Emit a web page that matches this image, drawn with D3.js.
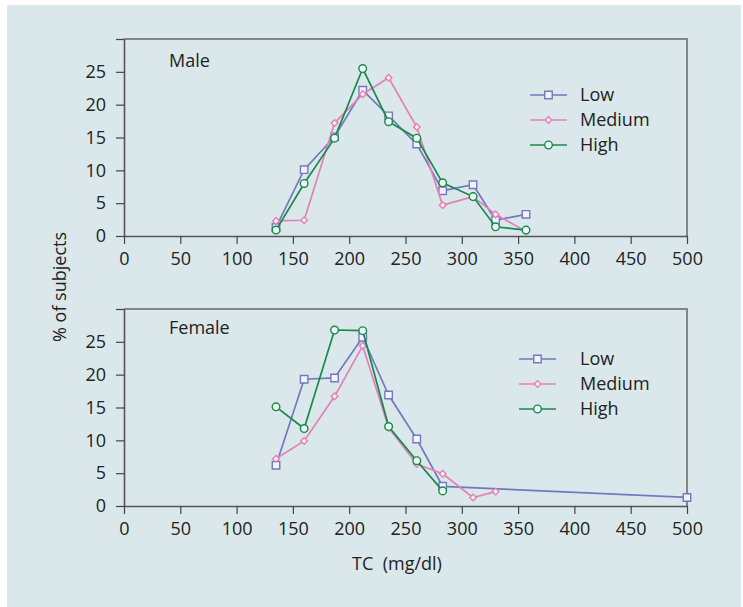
<!DOCTYPE html>
<html lang="en">
	<head>
		<meta charset="utf-8">
		<title>TC distribution</title>
		<script type="text/javascript" src="https://cdn.jsdelivr.net/npm/d3@7"></script>
		<style>
			body { margin: 0; background: #fff; }
			text { font-family: "Open Sans", "Noto Sans", sans-serif; fill: #222; }
		</style>
	</head>
	<body>
	<script type="text/javascript">
			//data
			var seriesNames = ["Low", "Medium", "High"];
			var xTicks = [0, 50, 100, 150, 200, 250, 300, 350, 400, 450, 500];
			var yTicks = [0, 5, 10, 15, 20, 25, 30];

			var maleLowX = [135, 160, 187, 212, 235, 260, 283, 310, 330, 357];
			var maleLowY = [1.3, 10.1, 15.1, 22.2, 18.3, 14.0, 6.9, 7.8, 2.4, 3.3];
			var maleMedX = [135, 160, 187, 212, 235, 260, 283, 310, 330, 357];
			var maleMedY = [2.3, 2.4, 17.2, 21.6, 24.1, 16.6, 4.7, 6.0, 3.3, 0.7];
			var maleHighX = [135, 160, 187, 212, 235, 260, 283, 310, 330, 357];
			var maleHighY = [0.9, 8.0, 14.9, 25.5, 17.4, 14.9, 8.1, 6.0, 1.4, 0.9];

			var femLowX = [135, 160, 187, 212, 235, 260, 283, 500];
			var femLowY = [6.2, 19.3, 19.5, 25.7, 16.9, 10.2, 3.0, 1.3];
			var femMedX = [135, 160, 187, 212, 235, 260, 283, 310, 330];
			var femMedY = [7.2, 9.9, 16.7, 24.4, 11.9, 6.4, 4.9, 1.3, 2.2];
			var femHighX = [135, 160, 187, 212, 235, 260, 283];
			var femHighY = [15.1, 11.8, 26.8, 26.7, 12.1, 6.9, 2.3];

			var colors = {"Low": "#7478bd", "Medium": "#e580b5", "High": "#17894c"};
			var fills = {"Low": "#f2f3fb", "Medium": "#fdf2f8", "High": "#eef7f1"};

			function zip(xs, ys) {
				return xs.map(function(x, i) { return {"x": x, "y": ys[i]}; });
			}

			var panels = [
				{"title": "Male", "top": 39, "titleY": 28, "legendX": 530, "legendY": 56,
				 "series": [zip(maleLowX, maleLowY), zip(maleMedX, maleMedY), zip(maleHighX, maleHighY)]},
				{"title": "Female", "top": 309, "titleY": 25, "legendX": 519, "legendY": 50,
				 "series": [zip(femLowX, femLowY), zip(femMedX, femMedY), zip(femHighX, femHighY)]}
			];

			//setup
			var width = 743, height = 607;
			var left = 124, right = 687, panelH = 197;

			var svg = d3.select("body")
									.append("svg")
									.attr("width", width)
									.attr("height", height);

			svg.append("rect")
					.attr("x", 7).attr("y", 5)
					.attr("width", 734).attr("height", 602)
					.attr("fill", "#dae8ec");

			var x = d3.scaleLinear().domain([0, 500]).range([left, right]);

			//medium uses a square turned 45 degrees
			var symbols = {"Low": d3.symbolSquare, "Medium": d3.symbolSquare, "High": d3.symbolCircle};
			var sizes = {"Low": 56, "Medium": 22, "High": 46};
			var turns = {"Low": 0, "Medium": 45, "High": 0};

			function marker(sel, name, px, py) {
				sel.attr("d", d3.symbol().type(symbols[name]).size(sizes[name]))
						.attr("transform", function(d) {
							return "translate(" + px(d) + "," + py(d) + ") rotate(" + turns[name] + ")";
						})
						.attr("fill", fills[name])
						.attr("stroke", colors[name])
						.attr("stroke-width", 1.4);
			}

			panels.forEach(function(p) {
				var y = d3.scaleLinear().domain([0, 30]).range([p.top + panelH, p.top]);
				var g = svg.append("g");

				//frame top and right
				g.append("path")
						.attr("d", "M" + left + "," + p.top + "H" + right + "V" + (p.top + panelH))
						.attr("fill", "none")
						.attr("stroke", "#858585")
						.attr("stroke-width", 2);

				var xAxis = g.append("g")
						.attr("transform", "translate(0," + y(0) + ")")
						.call(d3.axisBottom(x).tickValues(xTicks).tickSize(8).tickPadding(8).tickSizeOuter(0));
				var yAxis = g.append("g")
						.attr("transform", "translate(" + left + ",0)")
						.call(d3.axisLeft(y).tickValues(yTicks).tickSize(8).tickPadding(10).tickSizeOuter(0)
							.tickFormat(function(d) { return d === 30 ? "" : d; }));

				[xAxis, yAxis].forEach(function(a) {
					a.select(".domain").attr("stroke", "#555").attr("stroke-width", 1.6);
					a.selectAll(".tick line").attr("stroke", "#444").attr("stroke-width", 1.2);
					a.selectAll(".tick text").attr("font-size", 18).attr("fill", "#1e1e1e")
							.attr("font-family", "Open Sans, Noto Sans, sans-serif");
				});

				g.append("text")
						.attr("x", 169).attr("y", p.top + p.titleY)
						.attr("font-size", 18)
						.text(p.title);

				var line = d3.line().x(function(d) { return x(d.x); }).y(function(d) { return y(d.y); });

				seriesNames.forEach(function(name, i) {
					var s = g.append("g");
					s.append("path")
							.datum(p.series[i])
							.attr("d", line)
							.attr("fill", "none")
							.attr("stroke", colors[name])
							.attr("stroke-width", 1.7);
					s.selectAll("path.pt")
							.data(p.series[i])
							.enter().append("path")
							.attr("class", "pt")
							.call(marker, name,
								function(d) { return x(d.x); },
								function(d) { return y(d.y); });
				});

				//legend
				var lg = g.append("g");
				seriesNames.forEach(function(name, i) {
					var ly = p.top + p.legendY + i * 25;
					lg.append("line")
							.attr("x1", p.legendX).attr("x2", p.legendX + 37)
							.attr("y1", ly).attr("y2", ly)
							.attr("stroke", colors[name])
							.attr("stroke-width", 1.7);
					lg.append("path")
							.datum({})
							.call(marker, name,
								function() { return p.legendX + 18.5; },
								function() { return ly; });
					lg.append("text")
							.attr("x", 580).attr("y", ly)
							.attr("dy", "0.35em")
							.attr("font-size", 18)
							.text(name);
				});
			});

			//axis titles
			svg.append("text")
					.attr("transform", "translate(66,287) rotate(-90)")
					.attr("text-anchor", "middle")
					.attr("font-size", 18)
					.text("% of subjects");

			svg.append("text")
					.attr("x", 397).attr("y", 570)
					.attr("text-anchor", "middle")
					.attr("font-size", 18)
					.style("white-space", "pre")
					.text("TC  (mg/dl)");
	</script>
	</body>
</html>
